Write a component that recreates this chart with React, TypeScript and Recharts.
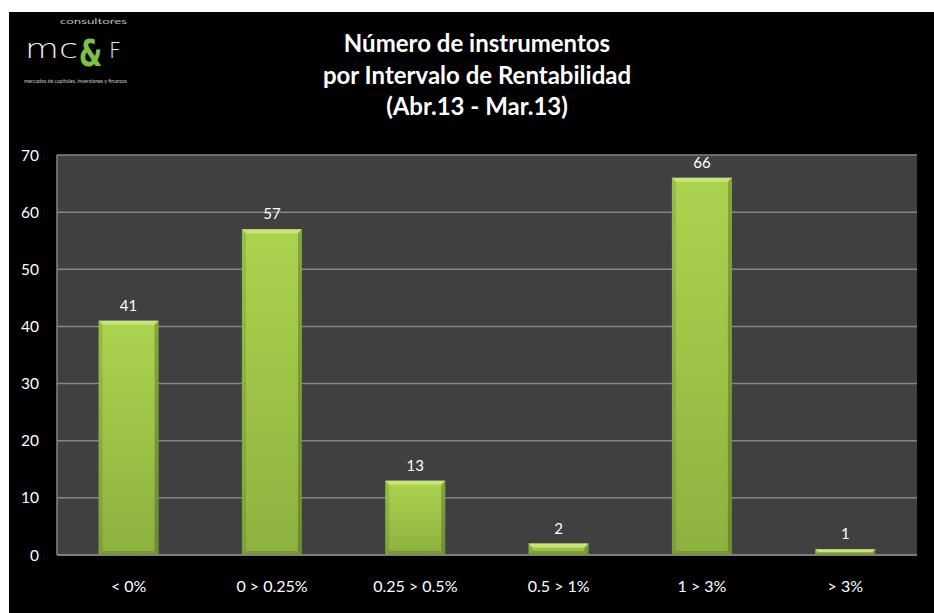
import React from "react";
import { BarChart, Bar, XAxis, YAxis, CartesianGrid, LabelList } from "recharts";

const categories = ["< 0%", "0 > 0.25%", "0.25 > 0.5%", "0.5 > 1%", "1 > 3%", "> 3%"];
const counts = [41, 57, 13, 2, 66, 1];
const yTicks = [0, 10, 20, 30, 40, 50, 60, 70];
const titleLines = ["Número de instrumentos", "por Intervalo de Rentabilidad", "(Abr.13 - Mar.13)"];

const data = categories.map((c, i) => ({ name: c, value: counts[i] }));

const FONT = "Lato, 'Open Sans', sans-serif";

const BarShape = (props: any) => {
  const { x, y, width, height } = props;
  if (!height || height <= 0) return null;
  const b = Math.min(4, height / 2);
  return (
    <g>
      <rect x={x} y={y} width={width} height={height} fill="url(#barGrad)" />
      <polygon
        points={`${x},${y} ${x + width},${y} ${x + width - b},${y + b} ${x + b},${y + b}`}
        fill="#c6e672"
      />
      <polygon
        points={`${x},${y} ${x + b},${y + b} ${x + b},${y + height - b} ${x},${y + height}`}
        fill="#000"
        opacity={0.1}
      />
      <polygon
        points={`${x + width},${y} ${x + width - b},${y + b} ${x + width - b},${y + height - b} ${x + width},${y + height}`}
        fill="#000"
        opacity={0.22}
      />
      <polygon
        points={`${x},${y + height} ${x + b},${y + height - b} ${x + width - b},${y + height - b} ${x + width},${y + height}`}
        fill="#000"
        opacity={0.15}
      />
    </g>
  );
};

const Logo = () => (
  <svg width={130} height={80} style={{ position: "absolute", left: 0, top: 0 }}>
    <text x={51} y={12} fill="#bbbbbb" fontSize={7.5} textLength={67} lengthAdjust="spacingAndGlyphs" fontFamily={FONT}>
      consultores
    </text>
    <text
      x={16}
      y={46}
      fill="#ececec"
      fontSize={26}
      fontWeight={200}
      textLength={53}
      lengthAdjust="spacingAndGlyphs"
      fontFamily="'DejaVu Sans', sans-serif"
    >
      mc
    </text>
    <text
      transform="translate(70,54) scale(0.72,1)"
      x={0}
      y={0}
      fill="#7dc242"
      fontSize={37}
      fontWeight={700}
      fontFamily="'DejaVu Sans', sans-serif"
    >
      &amp;
    </text>
    <text
      transform="translate(100,46) scale(0.95,1)"
      x={0}
      y={0}
      fill="#ececec"
      fontSize={22}
      fontWeight={200}
      fontFamily="'DejaVu Sans', sans-serif"
    >
      F
    </text>
    <text x={15} y={71} fill="#cccccc" fontSize={5} textLength={103} lengthAdjust="spacingAndGlyphs" fontFamily={FONT}>
      mercados de capitales, inversiones y finanzas
    </text>
  </svg>
);

export default function App() {
  return (
    <div
      style={{
        position: "absolute",
        left: 9,
        top: 12,
        width: 925,
        height: 601,
        background: "#000",
        fontFamily: FONT,
      }}
    >
      <Logo />
      <div
        style={{
          position: "absolute",
          left: 268,
          width: 400,
          top: 15,
          textAlign: "center",
          color: "#fff",
          fontWeight: 700,
          fontSize: 24,
          lineHeight: "31.5px",
          fontFamily: FONT,
        }}
      >
        {titleLines.map((t) => (
          <div key={t}>{t}</div>
        ))}
      </div>
      <div style={{ position: "absolute", left: 0, top: 0 }}>
        <BarChart
          width={925}
          height={601}
          data={data}
          margin={{ top: 143, right: 17, left: 0, bottom: 0 }}
          barCategoryGap="29%"
        >
          <defs>
            <linearGradient id="barGrad" x1="0" y1="0" x2="0" y2="1">
              <stop offset="0%" stopColor="#acd34e" />
              <stop offset="100%" stopColor="#8db13f" />
            </linearGradient>
          </defs>
          <CartesianGrid
            vertical={false}
            stroke="#858585"
            strokeWidth={1.5}
            fill="#404040"
            fillOpacity={1}
          />
          <XAxis
            dataKey="name"
            height={58}
            tickLine={false}
            tickSize={6}
            tickMargin={20}
            axisLine={{ stroke: "#858585", strokeWidth: 1.5 }}
            tick={{ fill: "#ffffff", fontSize: 16, fontFamily: FONT }}
            interval={0}
          />
          <YAxis
            width={48}
            domain={[0, 70]}
            ticks={yTicks}
            tickLine={false}
            tickSize={6}
            tickMargin={12}
            axisLine={{ stroke: "#858585", strokeWidth: 1.5 }}
            tick={{ fill: "#ffffff", fontSize: 15.5, fontFamily: FONT }}
            interval={0}
          />
          <Bar dataKey="value" shape={<BarShape />} isAnimationActive={false}>
            <LabelList
              dataKey="value"
              position="top"
              offset={10}
              fill="#ffffff"
              style={{ fontSize: 15, fontFamily: FONT }}
            />
          </Bar>
        </BarChart>
      </div>
    </div>
  );
}
